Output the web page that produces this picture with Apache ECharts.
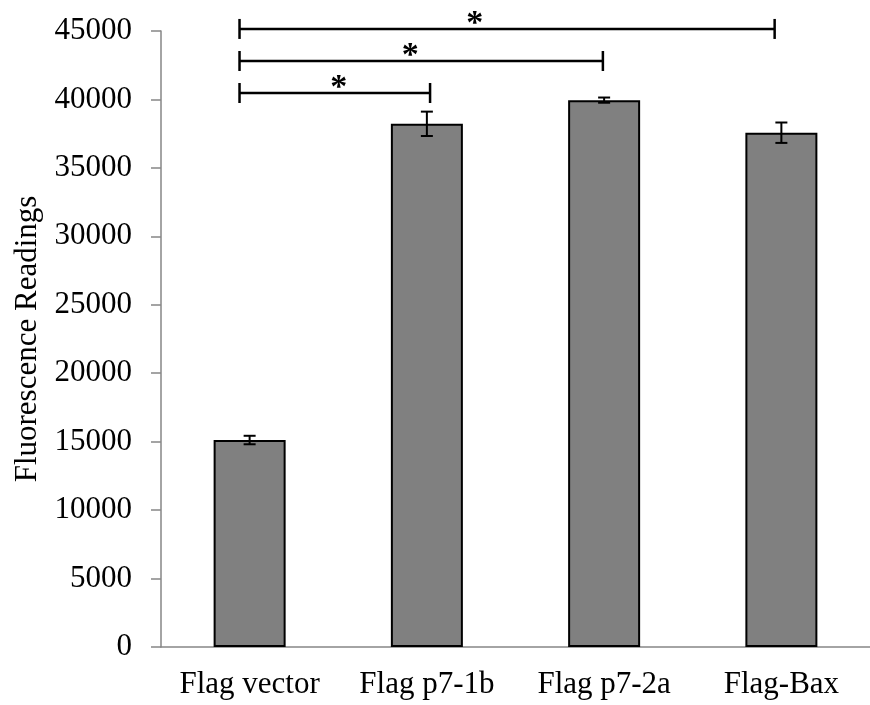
<!DOCTYPE html>
<html>
<head>
<meta charset="utf-8">
<script src="https://cdn.jsdelivr.net/npm/echarts@6/dist/echarts.min.js"></script>
<style>
  html, body { margin: 0; padding: 0; background: #fff; }
  #chart { width: 870px; height: 705px; }
</style>
</head>
<body>
<div id="chart"></div>
<script>
var categories = ['Flag vector', 'Flag p7-1b', 'Flag p7-2a', 'Flag-Bax']
var means = [15120, 38220, 39950, 37570]
var errors = [310, 890, 190, 745]
var yTicks = [0, 5000, 10000, 15000, 20000, 25000, 30000, 35000, 40000, 45000]

// significance brackets: start / end positions (category index units), height, asterisk position
var bracketStart = [-0.057, -0.057, -0.057]
var bracketEnd = [1.018, 1.993, 2.962]
var bracketY = [40470, 42810, 45150]
var starX = [0.503, 0.906, 1.27]

var FONT = 'Liberation Serif'

var myChart = echarts.init(document.getElementById('chart'))

var errData = means.map(function (m, i) { return [i, m - errors[i], m + errors[i]] })
var bracketData = bracketY.map(function (y, i) { return [bracketStart[i], bracketEnd[i], y, starX[i]] })

myChart.setOption({
    animation: false,
    grid: { left: 161, top: 31, width: 714, height: 616 },
    xAxis: [
        {
            type: 'category',
            data: categories,
            axisLine: { lineStyle: { color: '#868686', width: 1.5 } },
            axisTick: { length: 10, lineStyle: { color: '#868686', width: 1.5 } },
            axisLabel: { color: '#000', fontFamily: FONT, fontSize: 31, margin: 22, interval: 0 }
        },
        { type: 'value', min: -0.5, max: 3.5, show: false }
    ],
    yAxis: {
        type: 'value',
        min: 0,
        max: 45000,
        interval: 5000,
        name: 'Fluorescence Readings',
        nameLocation: 'middle',
        nameGap: 117,
        nameTextStyle: { color: '#000', fontFamily: FONT, fontSize: 31 },
        splitLine: { show: false },
        axisLine: { show: true, onZero: false, lineStyle: { color: '#868686', width: 1.5 } },
        axisTick: { show: true, length: 10, lineStyle: { color: '#868686', width: 1.5 } },
        axisLabel: {
            color: '#000', fontFamily: FONT, fontSize: 31, margin: 29,
            formatter: function (v) { return yTicks.indexOf(v) >= 0 ? String(v) : '' }
        }
    },
    series: [
        {
            type: 'bar',
            data: means,
            barWidth: 72,
            itemStyle: { color: '#808080', borderColor: '#000', borderWidth: 2 }
        },
        {
            type: 'custom',
            data: errData,
            z: 5,
            renderItem: function (params, api) {
                var lo = api.coord([api.value(0), api.value(1)])
                var hi = api.coord([api.value(0), api.value(2)])
                var s = { stroke: '#000', lineWidth: 2 }
                return {
                    type: 'group',
                    children: [
                        { type: 'line', shape: { x1: hi[0], y1: hi[1], x2: lo[0], y2: lo[1] }, style: s },
                        { type: 'line', shape: { x1: hi[0] - 6, y1: hi[1], x2: hi[0] + 6, y2: hi[1] }, style: s },
                        { type: 'line', shape: { x1: lo[0] - 6, y1: lo[1], x2: lo[0] + 6, y2: lo[1] }, style: s }
                    ]
                }
            }
        },
        {
            type: 'custom',
            xAxisIndex: 1,
            data: bracketData,
            clip: false,
            z: 5,
            renderItem: function (params, api) {
                var a = api.coord([api.value(0), api.value(2)])
                var b = api.coord([api.value(1), api.value(2)])
                var st = api.coord([api.value(3), api.value(2)])
                var s = { stroke: '#000', lineWidth: 2.5 }
                return {
                    type: 'group',
                    children: [
                        { type: 'line', shape: { x1: a[0], y1: a[1], x2: b[0], y2: b[1] }, style: s },
                        { type: 'line', shape: { x1: a[0], y1: a[1] - 10, x2: a[0], y2: a[1] + 10 }, style: s },
                        { type: 'line', shape: { x1: b[0], y1: b[1] - 10, x2: b[0], y2: b[1] + 10 }, style: s },
                        {
                            type: 'text',
                            style: {
                                x: st[0], y: st[1] - 5, text: '*',
                                fill: '#000', font: 'bold 34px "Liberation Serif"',
                                align: 'center', verticalAlign: 'middle'
                            }
                        }
                    ]
                }
            }
        }
    ]
})
</script>
</body>
</html>
